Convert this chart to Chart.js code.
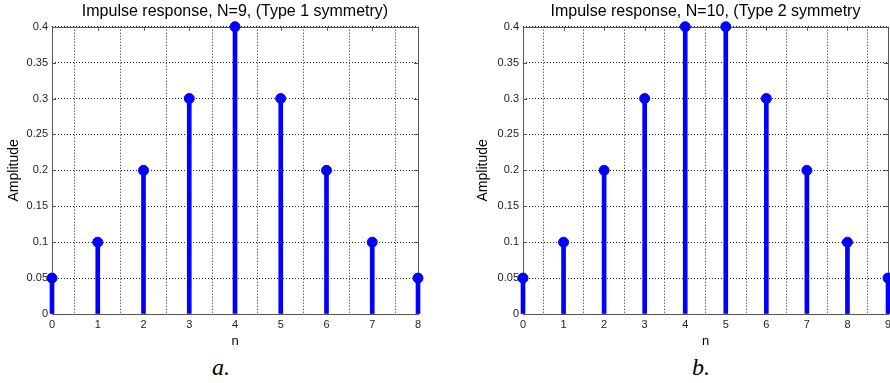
<!DOCTYPE html>
<html>
<head>
<meta charset="utf-8">
<script src="https://cdn.jsdelivr.net/npm/chart.js@4.4.0/dist/chart.umd.min.js"></script>
<style>
  body { margin: 0; width: 890px; height: 383px; background: #fff; position: relative; overflow: hidden; }
  .box { position: absolute; top: 0; height: 350px; }
  .cap { position: absolute; top: 354px; line-height: 24px; font: italic 24px "Liberation Serif", "DejaVu Serif", serif; color: #000; }
</style>
</head>
<body>
<div class="box" style="left:0;width:445px"><canvas id="chartA"></canvas></div>
<div class="box" style="left:445px;width:460px"><canvas id="chartB"></canvas></div>
<div class="cap" style="left:212px">a.</div>
<div class="cap" style="left:692px">b.</div>
<script>
// data
const nA = [0, 1, 2, 3, 4, 5, 6, 7, 8];
const hA = [0.05, 0.1, 0.2, 0.3, 0.4, 0.3, 0.2, 0.1, 0.05];
const nB = [0, 1, 2, 3, 4, 5, 6, 7, 8, 9];
const hB = [0.05, 0.1, 0.2, 0.3, 0.4, 0.4, 0.3, 0.2, 0.1, 0.05];
const yTicks = [0, 0.05, 0.1, 0.15, 0.2, 0.25, 0.3, 0.35, 0.4];
const yTickLabels = ["0", "0.05", "0.1", "0.15", "0.2", "0.25", "0.3", "0.35", "0.4"];
const titleA = "Impulse response, N=9, (Type 1 symmetry)";
const titleB = "Impulse response, N=10, (Type 2 symmetry";

const BLUE = "#0000ff";
const FONT = "'Liberation Sans', Arial, sans-serif";

// matlab style box with inward ticks
const boxPlugin = {
  id: "box",
  beforeDatasetsDraw(chart) {
    const { ctx, chartArea: a, scales } = chart;
    ctx.save();
    ctx.strokeStyle = "#555";
    ctx.lineWidth = 1;
    ctx.setLineDash([]);
    ctx.beginPath();
    scales.x.ticks.forEach(t => {
      const px = Math.round(scales.x.getPixelForValue(t.value)) + 0.5;
      ctx.moveTo(px, a.bottom); ctx.lineTo(px, a.bottom - 4);
      ctx.moveTo(px, a.top); ctx.lineTo(px, a.top + 4);
    });
    scales.y.ticks.forEach(t => {
      const py = Math.round(scales.y.getPixelForValue(t.value)) + 0.5;
      ctx.moveTo(a.left, py); ctx.lineTo(a.left + 4, py);
      ctx.moveTo(a.right, py); ctx.lineTo(a.right - 4, py);
    });
    ctx.stroke();
    ctx.strokeRect(Math.round(a.left) + 0.5, Math.round(a.top) + 0.5,
      Math.round(a.right - a.left), Math.round(a.bottom - a.top));
    ctx.restore();
  }
};

function makeStem(id, ns, hs, title, yWidth, ampPad, padRight) {
  const pts = ns.map((n, i) => ({ x: n, y: hs[i] }));
  return new Chart(document.getElementById(id), {
    data: {
      datasets: [
        { type: "bar", data: pts, backgroundColor: BLUE, barThickness: 4, clip: false },
        { type: "scatter", data: pts, backgroundColor: BLUE, borderColor: BLUE,
          pointRadius: 5, pointHoverRadius: 5, clip: false }
      ]
    },
    options: {
      responsive: true,
      maintainAspectRatio: false,
      animation: false,
      layout: { padding: { left: 0, right: padRight, top: 0, bottom: 0 } },
      plugins: {
        legend: { display: false },
        tooltip: { enabled: false },
        title: {
          display: true, text: title, fullSize: false, color: "#000",
          font: { family: FONT, size: 16, weight: "normal" },
          padding: { top: 2, bottom: 5.5 }
        }
      },
      scales: {
        x: {
          type: "linear", min: 0, max: ns[ns.length - 1], offset: false,
          ticks: { stepSize: 1, padding: 4, color: "#222", font: { family: FONT, size: 11 } },
          grid: { color: "#222", lineWidth: 1, drawTicks: false },
          border: { display: false, dash: [1, 2] },
          title: { display: true, text: "n", color: "#000",
            font: { family: FONT, size: 13 }, padding: { top: 0, bottom: 1 } },
          afterFit: s => { s.height = 36; }
        },
        y: {
          type: "linear", min: 0, max: 0.4,
          afterBuildTicks: s => { s.ticks = yTicks.map(v => ({ value: v })); },
          ticks: { padding: 4, color: "#222", font: { family: FONT, size: 11 },
            callback: v => yTickLabels[yTicks.indexOf(v)] },
          grid: { color: "#222", lineWidth: 1, drawTicks: false },
          border: { display: false, dash: [1, 2] },
          title: { display: true, text: "Amplitude", color: "#000",
            font: { family: FONT, size: 14 }, padding: { top: ampPad, bottom: 0 } },
          afterFit: s => { s.width = yWidth; }
        }
      }
    },
    plugins: [boxPlugin]
  });
}

makeStem("chartA", nA, hA, titleA, 52, 6, 27);
makeStem("chartB", nB, hB, titleB, 78, 30, 17);
</script>
</body>
</html>
